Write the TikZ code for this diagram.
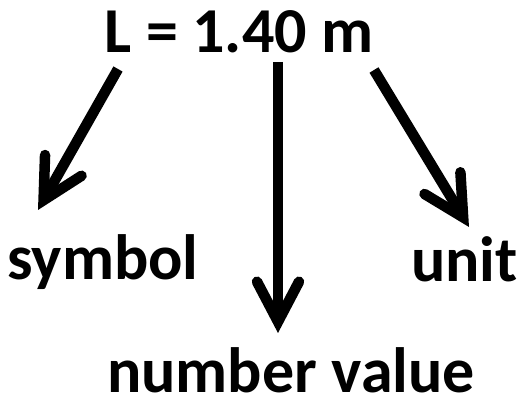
\documentclass[tikz,border=0pt]{standalone}
\usepackage{fontspec}
\setmainfont{Carlito}
\usetikzlibrary{arrows.meta}
\tikzset{
  termtext/.style={font=\fontsize{64}{76}\selectfont\bfseries,inner sep=0pt,anchor=base},
  partarrow/.style={-{Straight Barb[length=40pt,width=42pt,line cap=round]},line width=10.5pt}
}
\begin{document}
\begin{tikzpicture}[x=1pt,y=-1pt]
  \useasboundingbox (0,0) rectangle (520,398);
  \node[termtext] (quantity) at (239,53) {L = 1.40 m};
  \node[termtext,anchor=base west] (symbol) at (7,280) {symbol};
  \node[termtext,anchor=base west] (unit) at (411,282) {unit};
  \node[termtext] (value) at (291,392) {number value};
  \coordinate (symstart) at (118,69);
  \coordinate (symtip) at (38,210);
  \coordinate (valstart) at (278,62);
  \coordinate (valtip) at (278,333);
  \coordinate (unitstart) at (374,70);
  \coordinate (unittip) at (469,227);
  \draw[partarrow] (symstart) -- (symtip);
  \draw[partarrow] (valstart) -- (valtip);
  \draw[partarrow] (unitstart) -- (unittip);
\end{tikzpicture}
\end{document}
